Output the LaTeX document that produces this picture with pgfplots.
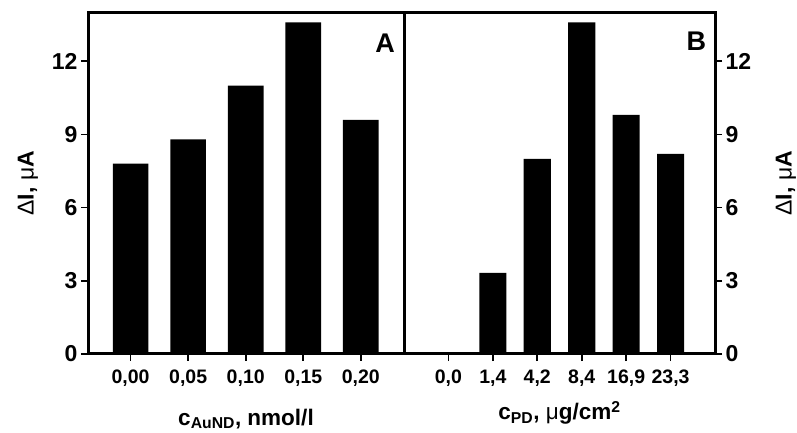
\documentclass[border=0pt]{standalone}
\usepackage{fontspec}
\setmainfont{Liberation Sans}
\usepackage{pgfplots}
\pgfplotsset{compat=1.18}
\newcommand\xt{\fontsize{19.5}{21}\selectfont\bfseries}
\newcommand\yt{\fontsize{23}{25}\selectfont\bfseries}
\pgfplotsset{
  myaxis/.style={
    scale only axis,
    height=341.5pt,
    ymin=0, ymax=14,
    ytick={0,3,6,9,12},
    yticklabels={\yt 0,\yt 3,\yt 6,\yt 9,\yt 12},
    axis line style={line width=3pt},
    tick align=outside,
    major tick length=7pt,
    tick style={line width=1.6pt, black},
    xtick pos=bottom,
    xticklabel style={text height=15pt, text depth=3pt, yshift=-4pt},
  }
}
\begin{document}
\begin{tikzpicture}
\useasboundingbox (0pt,0pt) rectangle (797pt,433pt);
\begin{axis}[myaxis,
  at={(88pt,79pt)}, anchor=south west,
  width=316pt,
  xmin=-0.74, xmax=4.75,
  xtick={0,1,2,3,4},
  xticklabels={{\xt 0,00},{\xt 0,05},{\xt 0,10},{\xt 0,15},{\xt 0,20}},
  ytick pos=left,
  every axis x label/.style={at={(axis description cs:0.5,-0.208)}, anchor=base, font=\fontsize{22.5}{24}\selectfont\bfseries},
  every axis y label/.style={at={(axis description cs:-0.19,0.5)}, rotate=90, anchor=center, font=\fontsize{23}{25}\selectfont\bfseries},
  xlabel={c\textsubscript{AuND}, nmol/l},
  ylabel={{\mdseries Δ}I, {\mdseries μ}A},
]
\addplot[ybar, bar width=0.62, fill=black, draw=none] coordinates {(0,7.8) (1,8.8) (2,11.0) (3,13.6) (4,9.6)};
\node[font=\fontsize{27}{29}\selectfont\bfseries] at (rel axis cs:0.94,0.909) {A};
\end{axis}
\begin{axis}[myaxis,
  at={(404pt,79pt)}, anchor=south west,
  width=311pt,
  xmin=-1, xmax=6,
  xtick={0,1,2,3,4,5},
  xticklabels={{\xt 0,0},{\xt 1,4},{\xt 4,2},{\xt 8,4},{\xt 16,9},{\xt 23,3}},
  ytick pos=right,
  yticklabel pos=right,
  every axis x label/.style={at={(axis description cs:0.5,-0.193)}, anchor=base, font=\fontsize{22.5}{24}\selectfont\bfseries},
  every axis y label/.style={at={(axis description cs:1.228,0.5)}, rotate=90, anchor=center, font=\fontsize{23}{25}\selectfont\bfseries},
  xlabel={c\textsubscript{PD}, {\mdseries μ}g/cm\textsuperscript{2}},
  ylabel={{\mdseries Δ}I, {\mdseries μ}A},
]
\addplot[ybar, bar width=0.61, fill=black, draw=none] coordinates {(0,0) (1,3.33) (2,8.0) (3,13.6) (4,9.8) (5,8.2)};
\node[font=\fontsize{27}{29}\selectfont\bfseries] at (rel axis cs:0.94,0.915) {B};
\end{axis}
\end{tikzpicture}
\end{document}
